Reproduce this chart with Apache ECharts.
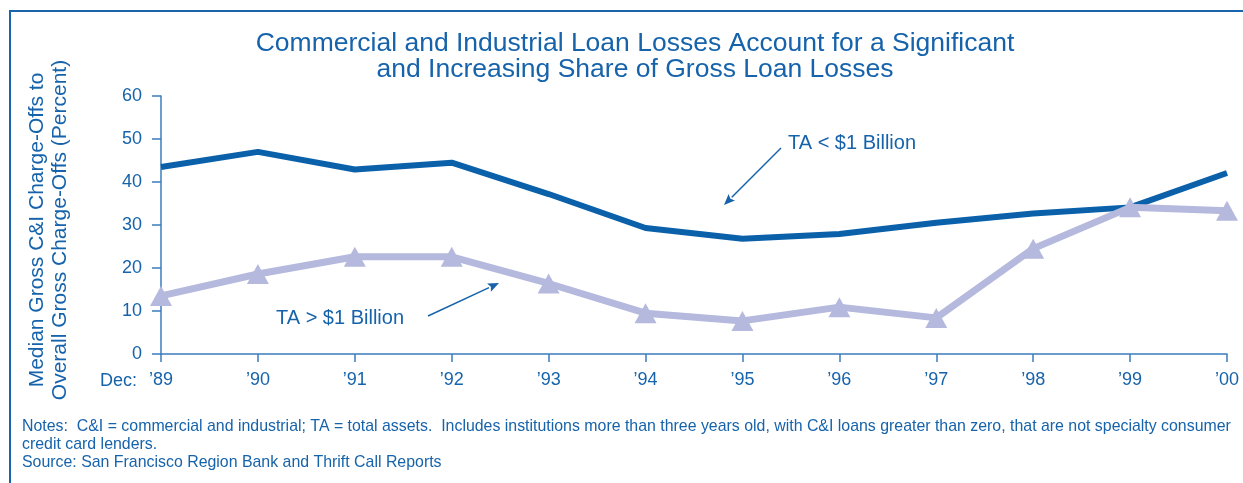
<!DOCTYPE html>
<html>
<head>
<meta charset="utf-8">
<script src="https://cdn.jsdelivr.net/npm/echarts@6/dist/echarts.min.js"></script>
<style>
html,body{margin:0;padding:0;background:#fff;}
#chart{width:1243px;height:483px;}
</style>
</head>
<body>
<div id="chart"></div>
<script>
const categories = ['\u201989','\u201990','\u201991','\u201992','\u201993','\u201994','\u201995','\u201996','\u201997','\u201998','\u201999','\u201900'];
const smallBanks = [43.5, 47.0, 42.9, 44.5, 37.2, 29.3, 26.8, 27.9, 30.5, 32.7, 34.1, 42.1];
const largeBanks = [13.5, 18.6, 22.6, 22.6, 16.4, 9.5, 7.7, 10.9, 8.4, 24.5, 34.1, 33.3];
const yTicks = [0, 10, 20, 30, 40, 50, 60];

const TXT = '#1663ab';
const DARK = '#0b60aa';
const LIGHT = '#b5b9dd';
const AXIS = '#3a7dbd';
const FONT = '"Liberation Sans", Arial, Helvetica, sans-serif';

function arrow(x1, y1, x2, y2, color) {
  const ang = Math.atan2(y2 - y1, x2 - x1);
  const L = 11, W = 4.5;
  const bx = x2 - L * Math.cos(ang), by = y2 - L * Math.sin(ang);
  const px = -Math.sin(ang) * W, py = Math.cos(ang) * W;
  return [
    {type: 'line', shape: {x1: x1, y1: y1, x2: bx, y2: by}, style: {stroke: color, lineWidth: 1.5}},
    {type: 'polygon', shape: {points: [[x2, y2], [bx + px, by + py], [bx + 2*Math.cos(ang), by + 2*Math.sin(ang)], [bx - px, by - py]]}, style: {fill: color}}
  ];
}

const chart = echarts.init(document.getElementById('chart'));
chart.setOption({
  animation: false,
  backgroundColor: '#fff',
  title: [
    {
      text: 'Commercial and Industrial Loan Losses Account for a Significant\nand Increasing Share of Gross Loan Losses',
      left: 630, top: 26, textAlign: 'center',
      textStyle: {color: TXT, fontFamily: FONT, fontSize: 26.5, fontWeight: 'normal', lineHeight: 26}
    },
    {
      text: 'Notes:  C&I = commercial and industrial; TA = total assets.  Includes institutions more than three years old, with C&I loans greater than zero, that are not specialty consumer\ncredit card lenders.\nSource: San Francisco Region Bank and Thrift Call Reports',
      left: 17, top: 413,
      textStyle: {color: TXT, fontFamily: FONT, fontSize: 15.9, fontWeight: 'normal', lineHeight: 18}
    }
  ],
  grid: {left: 161, right: 16, top: 96, bottom: 129},
  xAxis: {
    type: 'category',
    data: categories,
    boundaryGap: false,
    name: 'Dec:',
    nameLocation: 'start',
    nameGap: 24,
    nameTextStyle: {color: TXT, fontFamily: FONT, fontSize: 18, verticalAlign: 'top', padding: [18, 0, 0, 0]},
    axisLine: {lineStyle: {color: AXIS, width: 1.5}},
    axisTick: {inside: false, length: 8, lineStyle: {color: AXIS, width: 1.5}, alignWithLabel: true},
    axisLabel: {color: TXT, fontFamily: FONT, fontSize: 18, margin: 17},
    splitLine: {show: false}
  },
  yAxis: {
    type: 'value',
    min: yTicks[0], max: yTicks[yTicks.length - 1], interval: 10,
    name: 'Median Gross C&I Charge-Offs to\nOverall Gross Charge-Offs (Percent)',
    nameLocation: 'middle',
    nameGap: 89,
    nameRotate: 90,
    nameTextStyle: {color: TXT, fontFamily: FONT, fontSize: 21, lineHeight: 23, padding: [0, 10, 0, 0]},
    axisLine: {show: true, lineStyle: {color: AXIS, width: 1.5}},
    axisTick: {show: true, inside: false, length: 9, lineStyle: {color: AXIS, width: 1.5}},
    axisLabel: {color: TXT, fontFamily: FONT, fontSize: 18, margin: 19},
    splitLine: {show: false}
  },
  series: [
    {
      name: 'TA < $1 Billion', type: 'line', data: smallBanks,
      symbol: 'none', lineStyle: {color: DARK, width: 6}, itemStyle: {color: DARK}, z: 3
    },
    {
      name: 'TA > $1 Billion', type: 'line', data: largeBanks,
      symbol: 'triangle', symbolSize: [22, 20], showAllSymbol: true,
      lineStyle: {color: LIGHT, width: 7}, itemStyle: {color: LIGHT}, z: 4
    }
  ],
  graphic: [
    {type: 'polyline', shape: {points: [[10, 483], [10, 11], [1243, 11]]}, style: {stroke: '#1a64ac', lineWidth: 2, fill: null}},
    {type: 'text', left: 788, top: 133, style: {text: 'TA < $1 Billion', fill: TXT, font: '20px ' + FONT}},
    {type: 'text', left: 276, top: 308, style: {text: 'TA > $1 Billion', fill: TXT, font: '20px ' + FONT}}
  ].concat(arrow(781, 148, 724, 205, TXT)).concat(arrow(428, 316, 499, 283, TXT))
});
</script>
</body>
</html>
